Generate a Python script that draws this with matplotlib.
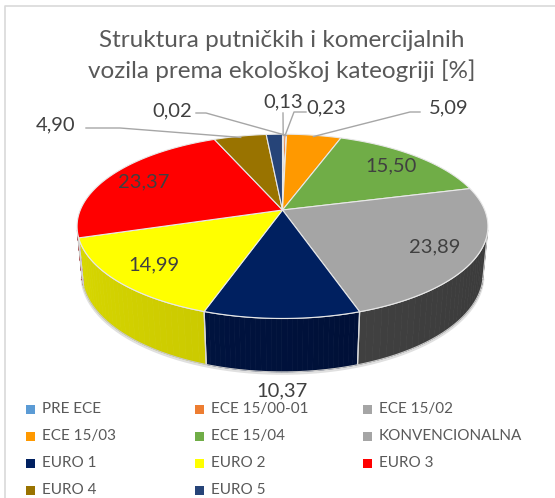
import numpy as np
import matplotlib.pyplot as plt
from matplotlib.patches import Polygon, Rectangle
from matplotlib.colors import to_rgb

plt.rcParams['font.family'] = ['Lato', 'DejaVu Sans']

# podaci
categories = ['PRE ECE', 'ECE 15/00-01', 'ECE 15/02', 'ECE 15/03', 'ECE 15/04',
              'KONVENCIONALNA', 'EURO 1', 'EURO 2', 'EURO 3', 'EURO 4', 'EURO 5']
values = [0.13, 0.23, 0.02, 5.09, 15.50, 23.89, 10.37, 14.99, 23.37, 4.90, 1.51]
colors = ['#5B9BD5', '#ED7D31', '#A5A5A5', '#FF9900', '#70AD47', '#A5A5A5',
          '#002060', '#FFFF00', '#FF0000', '#997300', '#264478']
# boje bocne strane (lijevo, desno)
side_colors = {5: ('#4A4A4A', '#3A3A3A'), 6: ('#00174A', '#000C2C'),
               7: ('#D9D900', '#B5B100')}
title = 'Struktura putničkih i komercijalnih\nvozila prema ekološkoj kateogriji [%]'

# geometrija 3D kolaca (pikseli)
cx, cy = 282.5, 210
elev = np.radians(26.2)
c, s = np.cos(elev), np.sin(elev)
D = 5.07
F = 1025
h = 0.263


def project(theta, r=1.0, z=0.0):
    t = np.radians(theta)
    rx = r * np.sin(t)
    ry = r * np.cos(t) + D * c
    rz = z - D * s
    depth = ry * c - rz * s
    up = ry * s + rz * c
    return cx + F * rx / depth, cy - F * up / depth


def mix(a, b, f):
    a, b = np.array(to_rgb(a)), np.array(to_rgb(b))
    return tuple(a + (b - a) * f)


fig = plt.figure(figsize=(5.55, 4.98), dpi=100)
ax = fig.add_axes([0, 0, 1, 1])
ax.set_xlim(0, 555)
ax.set_ylim(498, 0)
ax.axis('off')

# okvir
ax.plot([5, 5, 555], [498, 6, 6], color='#D9D9D9', lw=1.2)

vals = np.array(values)
cum = np.concatenate([[0], np.cumsum(vals)]) / vals.sum() * 360
sil = np.degrees(np.arccos(-1 / (D * c)))   # vidljivi rub
sil_a, sil_b = sil, 360 - sil

# sjena / obrub
tt = np.linspace(sil_a, sil_b, 200)
bx, by = project(tt, 1.0, -h)
ax.plot(bx, by + 1.5, color='#E0E0E0', lw=2.0, zorder=1)

# bocne stijenke
for i in range(len(values)):
    a0, a1 = max(cum[i], sil_a), min(cum[i + 1], sil_b)
    if a1 <= a0:
        continue
    cl, cr = side_colors.get(i, (mix(colors[i], 'black', 0.4), mix(colors[i], 'black', 0.5)))
    n = 30
    edges = np.linspace(a0, a1, n + 1)
    for k in range(n):
        t = np.linspace(edges[k], edges[k + 1], 6)
        tx, ty = project(t, 1.0, 0)
        ux, uy = project(t[::-1], 1.0, -h)
        f = ((edges[k] + edges[k + 1]) / 2 - sil_b) / (sil_a - sil_b)
        col = mix(cl, cr, f)
        ax.add_patch(Polygon(np.column_stack([np.r_[tx, ux], np.r_[ty, uy]]),
                             closed=True, facecolor=col, edgecolor=col, lw=0.5, zorder=2))
    for b in (cum[i], cum[i + 1]):
        if sil_a < b < sil_b:
            x0, y0 = project(b, 1.0, 0)
            x1, y1 = project(b, 1.0, -h)
            ax.plot([x0, x1], [y0, y1], color='#D9D9D9', lw=0.9, zorder=3)

tx, ty = project(tt, 1.0, 0)
ax.plot(tx, ty, color='#E6E6E6', lw=0.9, zorder=3)
ax.plot(bx, by, color='#C8C8C8', lw=0.8, zorder=3)
for t in (sil_a, sil_b):
    x0, y0 = project(t, 1.0, 0)
    x1, y1 = project(t, 1.0, -h)
    ax.plot([x0, x1], [y0, y1], color='#D0D0D0', lw=0.9, zorder=3)

# gornja ploha
for i in range(len(values)):
    t = np.linspace(cum[i], cum[i + 1], max(3, int((cum[i + 1] - cum[i]) * 2)))
    px, py = project(t)
    ax.add_patch(Polygon(np.column_stack([np.r_[cx, px], np.r_[cy, py]]), closed=True,
                         facecolor=colors[i], edgecolor='#E8E8E8', lw=0.8, zorder=4))

mid = (cum[:-1] + cum[1:]) / 2
fmt = [f'{v:.2f}'.replace('.', ',') for v in values]
lab_col = '#404040'
lab_fs = 14.5

# oznake unutar kolaca
for i in (4, 5, 7, 8):
    x, y = project(mid[i], 0.8)
    ax.text(x, y, fmt[i], ha='center', va='center', fontsize=lab_fs, color=lab_col, zorder=6)

# vanjske oznake s linijama
outside = {0: (283, 102, [(283, 113)]),
           1: (326, 108, [(306, 112), (294, 112)]),
           2: (172, 111, [(196, 113), (206, 113)]),
           3: (449, 108, [(420, 112), (410, 112)]),
           9: (56, 125, [(86, 128), (120, 128)])}
for i, (lx, ly, pts) in outside.items():
    ax.text(lx, ly, fmt[i], ha='center', va='center', fontsize=lab_fs, color=lab_col, zorder=6)
    ex, ey = project(mid[i], 0.98)
    xs = [p[0] for p in pts] + [ex]
    ys = [p[1] for p in pts] + [ey]
    ax.plot(xs, ys, color='#A6A6A6', lw=1.0, zorder=5)
ax.text(282, 391, fmt[6], ha='center', va='center', fontsize=lab_fs, color=lab_col, zorder=6)

ax.text(282, 56, title, ha='center', va='center', fontsize=17.5, color='#595959',
        linespacing=1.4)

# legenda
for i, name in enumerate(categories):
    row, col = divmod(i, 3)
    x = [30, 199, 367][col]
    y = 409 + row * 27
    ax.add_patch(Rectangle((x - 4.5, y - 4.5), 9, 9, facecolor=colors[i], edgecolor='none', zorder=7))
    ax.text(x + 12, y, name, ha='left', va='center', fontsize=11, color='#595959', zorder=7)

fig.savefig('out.png', dpi=100)
